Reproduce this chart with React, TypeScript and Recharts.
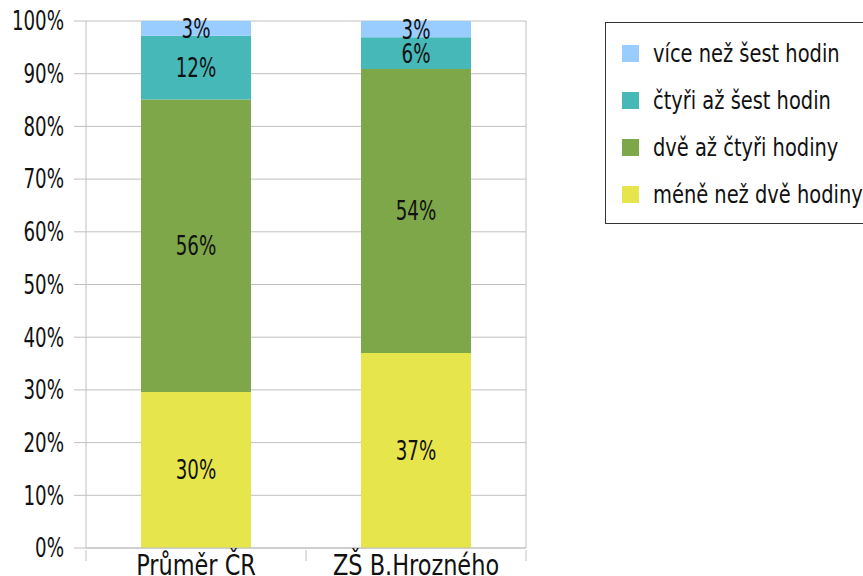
import React from 'react'
import { BarChart, Bar, XAxis, YAxis, CartesianGrid, Legend, LabelList } from 'recharts'

const categories = ['Průměr ČR', 'ZŠ B.Hrozného']
const meneNezDve = [29.6, 37.0]
const dveAzCtyri = [55.5, 53.9]
const ctyriAzSest = [12.1, 6.0]
const viceNezSest = [2.8, 3.1]
const yTicks = [0, 10, 20, 30, 40, 50, 60, 70, 80, 90, 100]

const series = [
  { key: 'mene', name: 'méně než dvě hodiny', color: '#e6e64c' },
  { key: 'dve', name: 'dvě až čtyři hodiny', color: '#7da749' },
  { key: 'ctyri', name: 'čtyři až šest hodin', color: '#47b8b8' },
  { key: 'vice', name: 'více než šest hodin', color: '#99ccff' },
]

const data = categories.map((name, i) => ({
  name,
  mene: meneNezDve[i],
  dve: dveAzCtyri[i],
  ctyri: ctyriAzSest[i],
  vice: viceNezSest[i],
}))

// the original uses a narrow face, DejaVu Condensed squeezed a bit gets close
const FONT = "'DejaVu Sans Condensed', 'DejaVu Sans', sans-serif"
const GRID = '#c0c0c0'
const INK = '#111'

function CategoryTick(props: any) {
  const { x, y, payload, index } = props
  const half = payload?.offset ?? 0
  return (
    <g>
      {half > 0 && <line x1={x - half} x2={x - half} y1={y} y2={y + 11} stroke={GRID} />}
      {half > 0 && index === categories.length - 1 && (
        <line x1={x + half} x2={x + half} y1={y} y2={y + 11} stroke={GRID} />
      )}
      <text
        transform={`translate(${x},${y + 25}) scale(0.86,1)`}
        textAnchor="middle"
        fontSize={29}
        fill={INK}
        fontFamily={FONT}
      >
        {payload.value}
      </text>
    </g>
  )
}

function PercentTick(props: any) {
  const { x, y, payload } = props
  return (
    <text
      transform={`translate(${x},${y}) scale(0.78,1)`}
      textAnchor="end"
      dy="0.36em"
      fontSize={26}
      fill={INK}
      fontFamily={FONT}
    >
      {`${payload.value}%`}
    </text>
  )
}

function BarLabel(props: any) {
  const vb = props.viewBox ?? {}
  const x = Number(props.x ?? vb.x)
  const y = Number(props.y ?? vb.y)
  const w = Number(props.width ?? vb.width)
  const h = Number(props.height ?? vb.height)
  return (
    <text
      transform={`translate(${x + w / 2},${y + h / 2}) scale(0.78,1)`}
      textAnchor="middle"
      dy="0.36em"
      fontSize={26}
      fill={INK}
      fontFamily={FONT}
    >
      {`${Math.round(Number(props.value))}%`}
    </text>
  )
}

// legend goes top-down, opposite of the stacking order
function LegendBox(props: any) {
  const byName = new Map((props.payload ?? []).map((p: any) => [p.value, p]))
  const items = [...series].reverse().map((s) => byName.get(s.name) as any).filter(Boolean)
  return (
    <div
      style={{
        border: '1px solid #333',
        width: 262,
        height: 202,
        boxSizing: 'border-box',
        paddingTop: 7,
        fontFamily: FONT,
        background: '#fff',
      }}
    >
      {items.map((it: any) => (
        <div key={it.value} style={{ display: 'flex', alignItems: 'center', height: 47 }}>
          <span style={{ flexShrink: 0, width: 17, height: 17, background: it.color, marginLeft: 16, marginRight: 14 }} />
          <span
            style={{
              display: 'inline-block',
              fontSize: 24,
              color: INK,
              whiteSpace: 'nowrap',
              transform: 'scaleX(0.9)',
              transformOrigin: 'left center',
            }}
          >
            {it.value}
          </span>
        </div>
      ))}
    </div>
  )
}

export default function App() {
  return (
    <div style={{ position: 'absolute', left: 0, top: 0, background: '#fff' }}>
      <BarChart
        width={863}
        height={576}
        data={data}
        margin={{ top: 21, right: 336, bottom: 0, left: 0 }}
        barCategoryGap="25%"
      >
        <CartesianGrid vertical={false} stroke={GRID} />
        <XAxis
          dataKey="name"
          height={28}
          axisLine={{ stroke: GRID }}
          tickLine={false}
          tickSize={0}
          tick={<CategoryTick />}
          interval={0}
        />
        <YAxis
          width={86}
          domain={[0, 100]}
          ticks={yTicks}
          axisLine={{ stroke: GRID }}
          tickLine={{ stroke: GRID }}
          tickSize={12}
          tickMargin={10}
          tick={<PercentTick />}
        />
        <YAxis
          yAxisId="r"
          orientation="right"
          width={1}
          domain={[0, 100]}
          tick={false}
          tickLine={false}
          axisLine={{ stroke: GRID }}
        />
        <Legend
          layout="horizontal"
          verticalAlign="middle"
          align="center"
          wrapperStyle={{ left: 605, top: 22, width: 262 }}
          content={<LegendBox />}
        />
        {series.map((s) => (
          <Bar key={s.key} dataKey={s.key} name={s.name} stackId="a" fill={s.color} isAnimationActive={false}>
            <LabelList dataKey={s.key} position="center" content={<BarLabel />} />
          </Bar>
        ))}
      </BarChart>
    </div>
  )
}
